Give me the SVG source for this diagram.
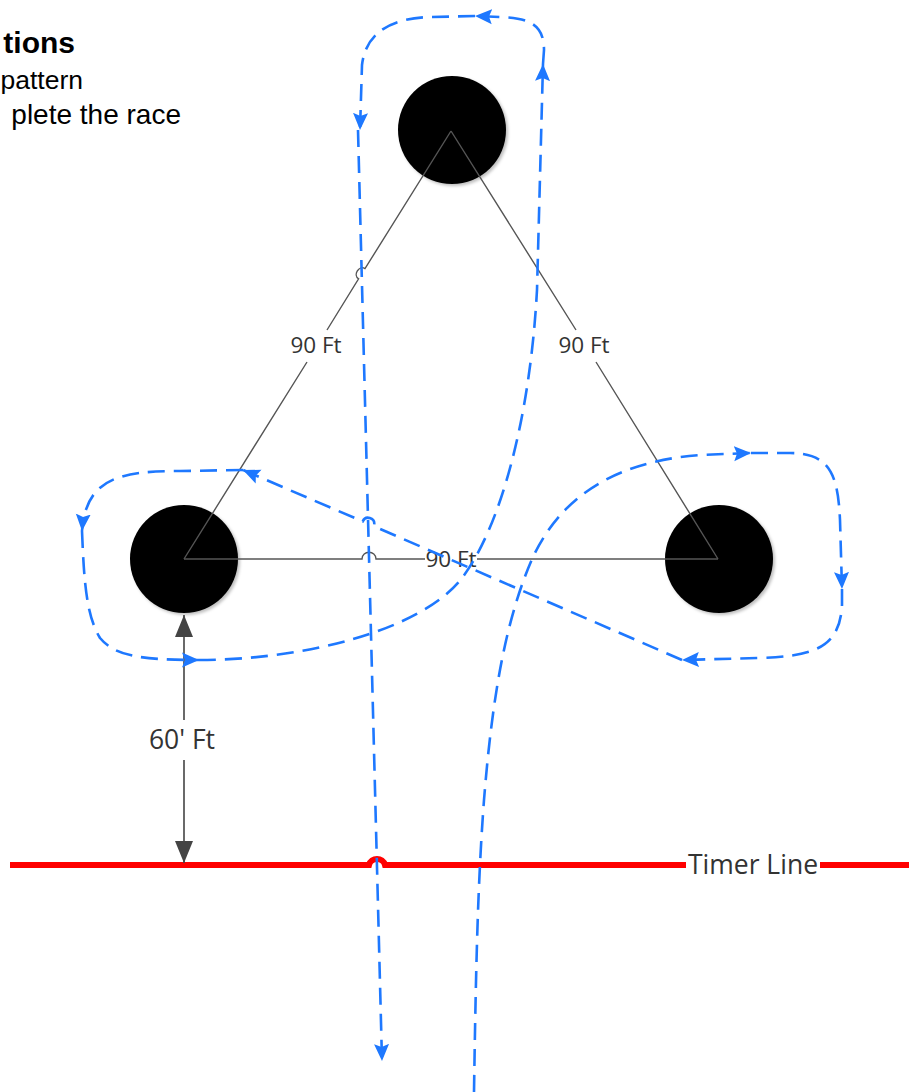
<svg xmlns="http://www.w3.org/2000/svg" width="909" height="1092" viewBox="0 0 909 1092">
<defs>
<filter id="sh" x="-20%" y="-20%" width="150%" height="150%">
<feDropShadow dx="2" dy="2" stdDeviation="1.5" flood-color="#000" flood-opacity="0.25"/>
</filter>
<marker id="ba" markerUnits="userSpaceOnUse" markerWidth="18" markerHeight="16" refX="17" refY="8" orient="auto">
<path d="M0,0.5 L17,8 L0,15.5 L3,8 Z" fill="#1e78ff"/>
</marker>
<marker id="ga" markerUnits="userSpaceOnUse" markerWidth="22" markerHeight="18" refX="22" refY="9" orient="auto">
<path d="M0,0 L22,9 L0,18 Z" fill="#444"/>
</marker>
</defs>
<style>
.node{fill:#000;filter:url(#sh)}
.edge{fill:none;stroke:#555;stroke-width:1.4}
.lbl{font-family:"Open Sans","Noto Sans",sans-serif;fill:#333;text-anchor:middle}
.route{fill:none;stroke:#1e78ff;stroke-width:2.6;stroke-dasharray:17 9;marker-end:url(#ba)}
.dim{fill:none;stroke:#444;stroke-width:1.6;marker-end:url(#ga)}
.hd{font-family:"Liberation Sans",Arial,sans-serif;fill:#000;text-anchor:end}
</style>
<rect width="909" height="1092" fill="#fff"/>

<g id="heading">
<text class="hd" x="75" y="53" font-size="30" font-weight="bold">tions</text>
<text class="hd" x="83" y="89" font-size="26.5">pattern</text>
<text class="hd" x="181" y="124" font-size="28">plete the race</text>
</g>

<g id="cone-top"><circle class="node" cx="452" cy="130" r="54"/></g>
<g id="cone-left"><circle class="node" cx="184" cy="559" r="54"/></g>
<g id="cone-right"><circle class="node" cx="719" cy="559" r="54"/></g>

<g id="triangle">
<path class="edge" d="M451,131 L365,268.6 C359,264.9 352.7,275.1 358.6,278.8 L327,330 M307,362 L184,559"/>
<path class="edge" d="M451,131 L576,330 M596,362 L718,559"/>
<path class="edge" d="M184,559 H362 C362,550 376,550 376,559 H425 M477,559 H718"/>
<text class="lbl" x="316" y="353" font-size="22.5">90 Ft</text>
<text class="lbl" x="584" y="353" font-size="22.5">90 Ft</text>
<text class="lbl" x="451" y="567" font-size="22.5">90 Ft</text>
</g>

<g id="timer-line">
<path d="M10,865 H369 C371,857 383,857 385,865 H686 M820,865 H909" fill="none" stroke="#ff0000" stroke-width="6"/>
<text class="lbl" x="753" y="874" font-size="26.5">Timer Line</text>
</g>

<g id="dimension">
<path class="dim" d="M184,720 L184,615"/>
<path class="dim" d="M184,760 L184,863"/>
<text class="lbl" x="182" y="749" font-size="26.5">60' Ft</text>
</g>

<g id="connectors">
<path class="route" d="M474,1092 C476,960 478,880 484,800 C492,700 505,620 533,557 C560,500 610,462 700,455 L751,453"/>
<path class="route" d="M751,453 L790,453 C830,453 838,475 840,520 L842,589"/>
<path class="route" d="M842,589 L842,605 C840,650 810,656 760,658 L682,660"/>
<path class="route" d="M682,660 L373.7,526.2 C376.9,518.9 365.9,514.1 362.7,521.4 L243,470"/>
<path class="route" d="M243,470 L180,471 C120,471 86,478 82,531"/>
<path class="route" d="M82,531 C84,580 86,615 100,638 C115,656 140,660 199,660"/>
<path class="route" d="M199,660 C300,660 420,632 462,578 C500,528 530,420 537,290 L543,64"/>
<path class="route" d="M543,64 L544,50 C544,25 530,18 500,17 L475,16"/>
<path class="route" d="M475,16 L430,17 C395,18 366,30 362,65 L360,130"/>
<path class="route" d="M358,130 L382,1061"/>
</g>
</svg>
